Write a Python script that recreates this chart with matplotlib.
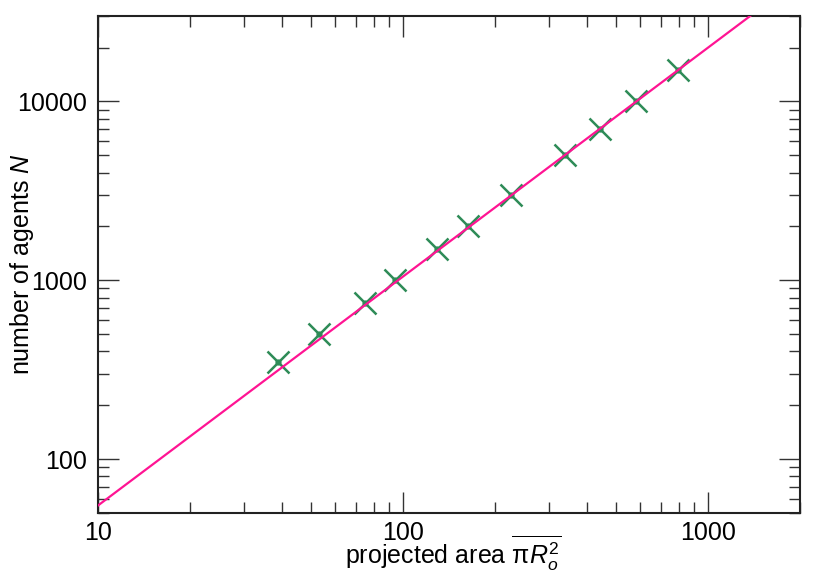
import numpy as np
import matplotlib
matplotlib.use("Agg")
import matplotlib.pyplot as plt
from matplotlib.ticker import LogLocator, NullFormatter, FixedLocator, FixedFormatter

# datos
area = [38.9, 53.1, 75.0, 94.2, 129.0, 163.0, 226.0, 340.0, 443.0, 581.0, 798.0]
agentes = [350, 500, 750, 1000, 1500, 2000, 3000, 5000, 7000, 10000, 15000]

fit_a = 2.89
fit_b = 1.28

xticks = [10, 100, 1000]
xlabels = ["10", "100", "1000"]
yticks = [100, 1000, 10000]
ylabels = ["100", "1000", "10000"]

plt.rcParams['font.family'] = ['Liberation Sans', 'DejaVu Sans']
plt.rcParams['mathtext.fontset'] = 'custom'
plt.rcParams['mathtext.rm'] = 'Liberation Sans'
plt.rcParams['mathtext.it'] = 'Liberation Sans:italic'

fig = plt.figure(figsize=(8.3, 5.81), dpi=100)
ax = fig.add_axes([98 / 830, 1 - 513 / 581, (800 - 98) / 830, (513 - 16) / 581])
ax.set_xscale('log')
ax.set_yscale('log')
ax.set_xlim(10, 2000)
ax.set_ylim(50, 30000)

ax.plot(area, agentes, linestyle='none', marker='x', markersize=16,
        markeredgewidth=1.8, color='#2e8b57', zorder=2)
ax.plot(area, agentes, linestyle='none', marker='o', markersize=3.5,
        color='#2e8b57', zorder=2)
xs = np.logspace(1, np.log10(2000), 200)
ax.plot(xs, fit_a * xs ** fit_b, color='#ff1493', linewidth=1.6, zorder=3)

ax.xaxis.set_major_locator(FixedLocator(xticks))
ax.xaxis.set_major_formatter(FixedFormatter(xlabels))
ax.yaxis.set_major_locator(FixedLocator(yticks))
ax.yaxis.set_major_formatter(FixedFormatter(ylabels))
ax.xaxis.set_minor_locator(LogLocator(base=10, subs=np.arange(2, 10)))
ax.yaxis.set_minor_locator(LogLocator(base=10, subs=np.arange(2, 10)))
ax.xaxis.set_minor_formatter(NullFormatter())
ax.yaxis.set_minor_formatter(NullFormatter())

ax.tick_params(which='both', direction='in', top=True, right=True,
               color='#333333', labelsize=18)
ax.tick_params(which='major', length=15, width=1.0, pad=8)
ax.tick_params(axis='x', which='major', pad=6)
ax.tick_params(which='minor', length=8, width=1.0)
for s in ax.spines.values():
    s.set_linewidth(1.5)
    s.set_color('#222222')

ax.set_xlabel(r'projected area $\overline{\mathrm{π}R_o^2}$', fontsize=18)
ax.xaxis.set_label_coords(0.5 + 4 / 702, -21 / 497)
ax.set_ylabel(r'number of agents $N$', fontsize=18)
ax.yaxis.set_label_coords(-62 / 702, 0.5)

plt.savefig('out.png', dpi=100)
